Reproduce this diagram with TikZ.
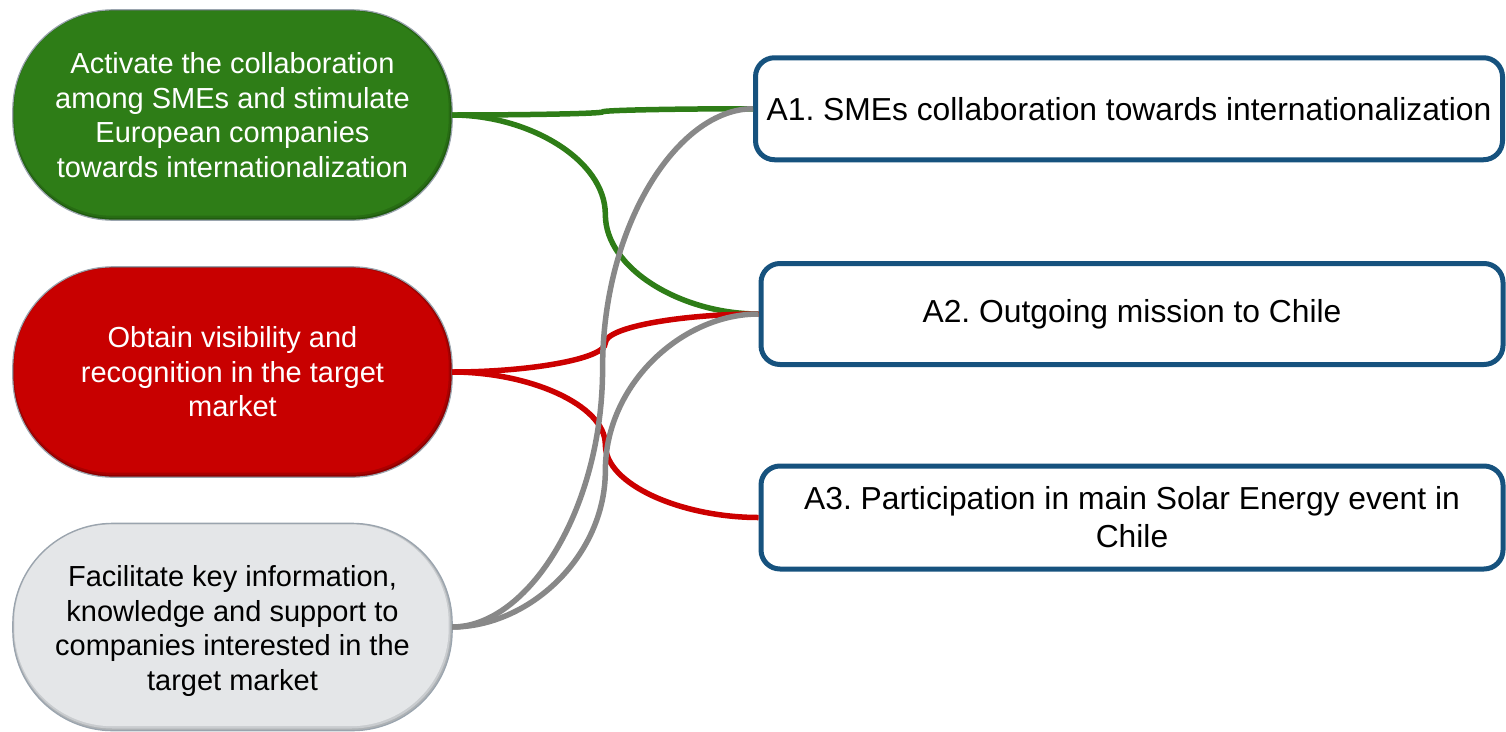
\documentclass[tikz,border=0pt]{standalone}
\usepackage{fontspec}
\setmainfont{Liberation Sans}
\usetikzlibrary{calc}
\frenchspacing

\definecolor{gbase}{HTML}{2E7D17}
\definecolor{gdark}{HTML}{1F5A0F}
\definecolor{rbase}{HTML}{C80000}
\definecolor{rdark}{HTML}{8A0000}
\definecolor{sbase}{HTML}{E4E6E8}
\definecolor{sdark}{HTML}{AEB2B5}
\definecolor{pillrim}{HTML}{9AA4AE}
\definecolor{boxblue}{HTML}{16527E}
\definecolor{lgreen}{HTML}{2E7D17}
\definecolor{lred}{HTML}{CC0000}
\definecolor{lgray}{HTML}{888888}

\pgfdeclarelayer{bg}
\pgfsetlayers{bg,main}

% goal pill: text only; its body is painted on the bg layer
\tikzset{
  goal/.style={rectangle, minimum width=439pt, align=center, inner sep=0pt,
    font=\fontsize{29}{34.5}\selectfont},
  activity/.style={rectangle, draw=boxblue, line width=5pt, rounded corners=19pt,
    fill=white, align=center, inner sep=0pt, font=\fontsize{31.8}{38}\selectfont},
  goalconn/.style={line width=5.5pt},
}

% pill body with a soft darker lower-right rim
\newcommand\pillbody[3]{%
  \begin{pgfonlayer}{bg}
    \fill[#3, rounded corners=100pt] (#1.north west) rectangle (#1.south east);
    \fill[#3!50!#2, rounded corners=99pt] ($(#1.north west)+(0.8,0.8)$) rectangle ($(#1.south east)+(-1.8,-2.2)$);
    \fill[#2, rounded corners=98pt] ($(#1.north west)+(1.5,1.2)$) rectangle ($(#1.south east)+(-3.5,-4.5)$);
    \draw[pillrim, line width=1.2pt, rounded corners=100pt] (#1.north west) rectangle (#1.south east);
  \end{pgfonlayer}}

% connector: two quarter bends meeting halfway between the nodes
\newcommand\mlink[3]{%
  \coordinate (#1-#2-mid) at ($(#1.east)!0.5!(#2.west)$);
  \coordinate (#1-#2-ca) at (#1.east -| #1-#2-mid);
  \coordinate (#1-#2-cb) at (#2.west -| #1-#2-mid);
  \draw[goalconn, draw=#3] (#1.east)
    .. controls ($(#1.east)!0.5!(#1-#2-ca)$) and ($(#1-#2-mid)!0.55!(#1-#2-ca)$) .. (#1-#2-mid)
    .. controls ($(#1-#2-mid)!0.55!(#1-#2-cb)$) and ($(#2.west)!0.5!(#1-#2-cb)$) .. (#2.west);}

\begin{document}
\begin{tikzpicture}[x=1pt, y=-1pt]
  \useasboundingbox (0,0) rectangle (1506,731);

  % goals
  \node[goal, minimum height=210pt, text=white] (g1) at (232.5,115)
    {Activate the collaboration\\among SMEs and stimulate\\European companies\\towards internationalization};
  \node[goal, minimum height=210pt, text=white] (g2) at (232.5,372)
    {Obtain visibility and\\recognition in the target\\market};
  \node[goal, minimum height=207pt, text=black] (g3) at (232.5,627)
    {};
  \node[goal, text=black] (g3t) at (232.5,631)
    {Facilitate key information,\\knowledge and support to\\companies interested in the\\target market};
  \pillbody{g1}{gbase}{gdark}
  \pillbody{g2}{rbase}{rdark}
  \pillbody{g3}{sbase}{sdark}

  % activities
  \node[activity, minimum width=747pt, minimum height=102pt] (a1) at (1129,108.75)
    {A1. SMEs collaboration towards internationalization};
  \node[activity, minimum width=742pt, minimum height=101pt] (a2) at (1132,314)
    {A2. Outgoing mission to Chile};
  \node[activity, minimum width=742pt, minimum height=103pt] (a3) at (1132,517.5)
    {A3. Participation in main Solar Energy event in\\Chile};

  % links
  \mlink{g1}{a1}{lgreen}
  \mlink{g1}{a2}{lgreen}
  \mlink{g2}{a2}{lred}
  \mlink{g2}{a3}{lred}
  \mlink{g3}{a1}{lgray}
  \mlink{g3}{a2}{lgray}
\end{tikzpicture}
\end{document}
